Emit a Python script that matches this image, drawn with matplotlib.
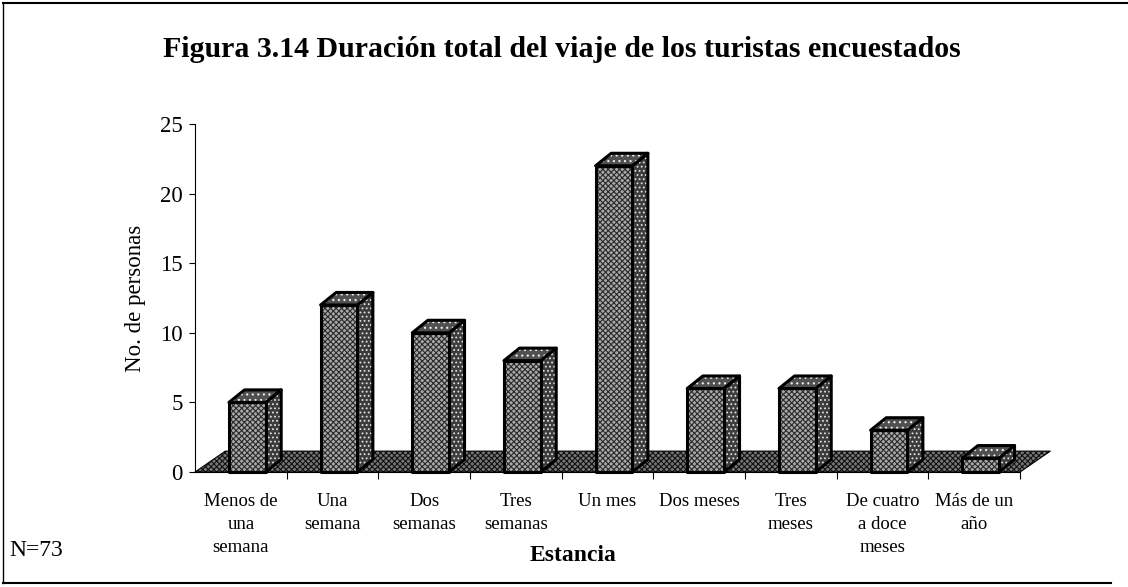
import matplotlib
matplotlib.use("Agg")
import matplotlib.pyplot as plt
from matplotlib.patches import Polygon

#### DATA ####
categorias = ["Menos de\nuna\nsemana", "Una\nsemana", "Dos\nsemanas", "Tres\nsemanas",
              "Un mes", "Dos meses", "Tres\nmeses", "De cuatro\na doce\nmeses", "Más de un\naño"]
personas = [5, 12, 10, 8, 22, 6, 6, 3, 1]
yticks = [0, 5, 10, 15, 20, 25]
titulo = "Figura 3.14 Duración total del viaje de los turistas encuestados"

#### STYLE ####
plt.rcParams['font.family'] = ['Liberation Serif', 'DejaVu Serif']
plt.rcParams['hatch.linewidth'] = 0.8

# 3D offsets (data units)
FLOOR_DX, FLOOR_DY = 0.33, 1.5
BAR_DX, BAR_DY = 0.17, 0.9
BAR_L, BAR_R = -0.13, 0.27


def face(ax, pts, fc, hatch, hc, lw=2.2):
    ax.add_patch(Polygon(pts, closed=True, facecolor=fc, edgecolor=hc, hatch=hatch,
                         lw=0, clip_on=False))
    ax.add_patch(Polygon(pts, closed=True, fill=False, edgecolor='black', lw=lw,
                         joinstyle='round', clip_on=False))


fig = plt.figure(figsize=(11.28, 5.87), dpi=100)
ax = fig.add_axes([0.1729, 0.1959, 0.7314, 0.5928])
n = len(categorias)
ax.set_xlim(-0.5, n - 0.5)
ax.set_ylim(0, 25)

# floor
x0, x1 = -0.5, n - 0.5
face(ax, [(x0, 0), (x1, 0), (x1 + FLOOR_DX, FLOOR_DY), (x0 + FLOOR_DX, FLOOR_DY)],
     '#777777', 'xxxxxx', '#111111', lw=0.8)

# bars
for i, v in enumerate(personas):
    l, r = i + BAR_L, i + BAR_R
    # side
    face(ax, [(r, 0), (r + BAR_DX, BAR_DY), (r + BAR_DX, v + BAR_DY), (r, v)],
         '#3c3c3c', '....', '#e0e0e0')
    # top
    face(ax, [(l, v), (r, v), (r + BAR_DX, v + BAR_DY), (l + BAR_DX, v + BAR_DY)],
         '#505050', '...', '#f0f0f0')
    # front
    face(ax, [(l, 0), (r, 0), (r, v), (l, v)], '#a8a8a8', 'xxxxxx', '#2a2a2a')

for s in ['top', 'right']:
    ax.spines[s].set_visible(False)
ax.spines['left'].set_linewidth(0.8)
ax.spines['bottom'].set_linewidth(0.8)

ax.set_yticks(yticks)
ax.tick_params(axis='y', labelsize=16.5, length=4, width=0.8, pad=5)
ax.set_xticks(range(n))
ax.set_xticklabels(categorias, fontsize=13.5, linespacing=1.45, va='top')
ax.tick_params(axis='x', length=0, pad=15)
ax.set_xticks([i + 0.5 for i in range(n)], minor=True)
ax.tick_params(axis='x', which='minor', length=5, width=0.8)

ax.set_ylabel("No. de personas", fontsize=16.5, labelpad=10)
fig.text(0.508, 0.054, "Estancia", fontsize=17, fontweight='bold', ha='center', va='center')
fig.text(0.008, 0.062, "N=73", fontsize=17, ha='left', va='center')
fig.text(0.498, 0.915, titulo, fontsize=21.5, fontweight='bold', ha='center', va='center')

# frame
fig.add_artist(plt.Line2D([0.003, 1.0], [0.995, 0.995], color='black', lw=1.5))
fig.add_artist(plt.Line2D([0.003, 0.003], [0.006, 0.995], color='black', lw=1.0))
fig.add_artist(plt.Line2D([0.003, 0.985], [0.006, 0.006], color='black', lw=1.5))

fig.savefig("out.png", dpi=100)
